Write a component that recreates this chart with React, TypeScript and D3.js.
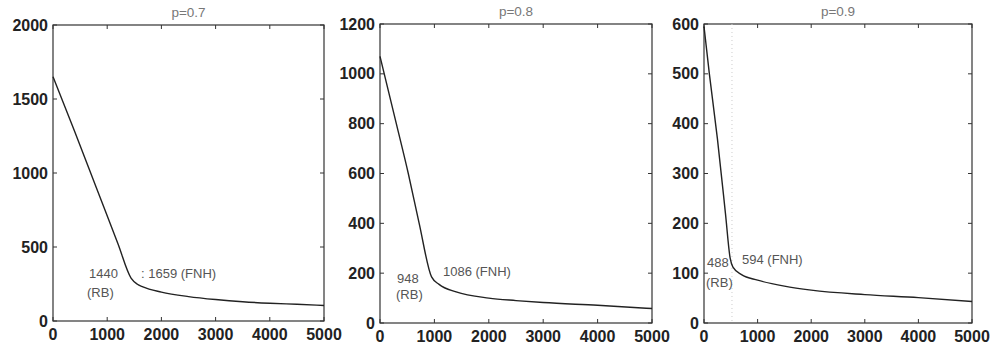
import React from 'react';
import * as d3 from 'd3';

// x positions shared by the curves are read per panel
const xTicks = [0, 1000, 2000, 3000, 4000, 5000];

const p07X = [0, 400, 800, 1200, 1440, 1550, 1659, 2000, 2500, 3000, 3500, 4000, 4500, 5000];
const p07Y = [1650, 1280, 900, 520, 290, 250, 230, 195, 165, 145, 130, 120, 113, 105];
const p07YTicks = [0, 500, 1000, 1500, 2000];

const p08X = [0, 300, 520, 720, 948, 1086, 1400, 2000, 2500, 3000, 4000, 5000];
const p08Y = [1070, 800, 600, 400, 185, 155, 125, 100, 90, 82, 71, 58];
const p08YTicks = [0, 200, 400, 600, 800, 1000, 1200];

const p09X = [0, 100, 250, 400, 488, 540, 700, 1000, 1500, 2000, 3000, 4000, 5000];
const p09Y = [595, 500, 370, 220, 130, 112, 97, 86, 74, 66, 57, 51, 43];
const p09YTicks = [0, 100, 200, 300, 400, 500, 600];

interface Note { text: string; x: number; y: number; }

interface PanelProps {
  title: string;
  xs: number[];
  ys: number[];
  yTicks: number[];
  left: number;
  right: number;
  top: number;
  bottom: number;
  notes: Note[];
  marker?: number;
}

const Panel: React.FC<PanelProps> = ({ title, xs, ys, yTicks, left, right, top, bottom, notes, marker }) => {
  const x = d3.scaleLinear().domain([0, 5000]).range([left, right]);
  const y = d3.scaleLinear().domain([0, yTicks[yTicks.length - 1]]).range([bottom, top]);
  const line = d3.line<number>()
    .x((_, i) => x(xs[i]))
    .y(d => y(d))
    .curve(d3.curveMonotoneX);
  const tk = 4;

  return (
    <g>
      <text x={(left + right) / 2} y={top - 8} textAnchor="middle" fontSize={13.5} fill="#777">{title}</text>
      <rect x={left} y={top} width={right - left} height={bottom - top} fill="none" stroke="#333" strokeWidth={1.2} />
      {marker !== undefined && (
        <line x1={x(marker)} x2={x(marker)} y1={top} y2={bottom} stroke="#ccc" strokeWidth={1} strokeDasharray="1 3" />
      )}
      {xTicks.map(t => (
        <g key={'x' + t}>
          <line x1={x(t)} x2={x(t)} y1={bottom} y2={bottom - tk} stroke="#333" />
          <line x1={x(t)} x2={x(t)} y1={top} y2={top + tk} stroke="#333" />
          <text x={x(t)} y={bottom + 19} textAnchor="middle" fontSize={16} fontWeight={600} fill="#222">{t}</text>
        </g>
      ))}
      {yTicks.map(t => (
        <g key={'y' + t}>
          <line x1={left} x2={left + tk} y1={y(t)} y2={y(t)} stroke="#333" />
          <line x1={right} x2={right - tk} y1={y(t)} y2={y(t)} stroke="#333" />
          <text x={left - 5} y={y(t)} dy="0.35em" textAnchor="end" fontSize={16} fontWeight={600} fill="#222">{t}</text>
        </g>
      ))}
      <path d={line(ys) || ''} fill="none" stroke="#222" strokeWidth={1.4} />
      {notes.map((n, i) => (
        <text key={i} x={n.x} y={n.y} dy="0.35em" fontSize={13} fill="#555">{n.text}</text>
      ))}
    </g>
  );
};

const App: React.FC = () => {
  return (
    <svg width={992} height={348} style={{ position: 'absolute', left: 0, top: 0, background: '#fff' }}
      fontFamily="Liberation Sans, Arial, sans-serif">
      <rect width={992} height={348} fill="#fff" />
      <Panel title="p=0.7" xs={p07X} ys={p07Y} yTicks={p07YTicks}
        left={53} right={324} top={25} bottom={321}
        notes={[
          { text: '1440', x: 89, y: 273 },
          { text: '(RB)', x: 87, y: 292 },
          { text: ': 1659 (FNH)', x: 141, y: 273 },
        ]} />
      <Panel title="p=0.8" xs={p08X} ys={p08Y} yTicks={p08YTicks}
        left={380} right={652} top={24} bottom={323}
        notes={[
          { text: '948', x: 397, y: 278 },
          { text: '(RB)', x: 396, y: 294 },
          { text: '1086 (FNH)', x: 443, y: 271 },
        ]} />
      <Panel title="p=0.9" xs={p09X} ys={p09Y} yTicks={p09YTicks}
        left={704} right={972} top={24} bottom={323}
        marker={522}
        notes={[
          { text: '488', x: 707, y: 262 },
          { text: '(RB)', x: 706, y: 282 },
          { text: '594 (FNH)', x: 742, y: 259 },
        ]} />
    </svg>
  );
};

export default App;
